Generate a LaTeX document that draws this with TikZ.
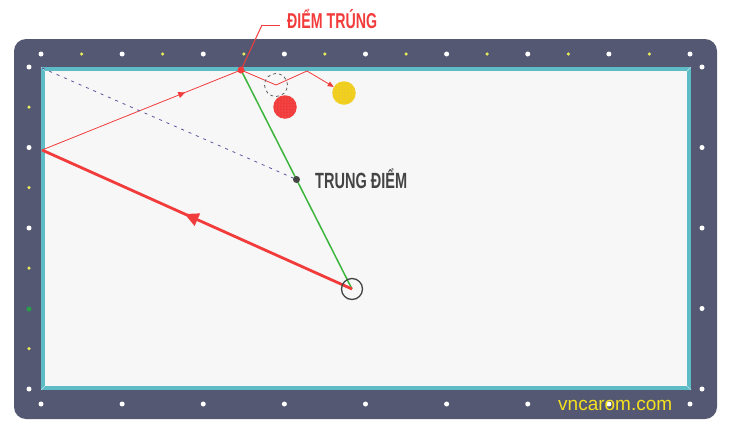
\documentclass[tikz,border=0pt]{standalone}
\usepackage{fontspec}
\setmainfont{Liberation Sans}
\newfontfamily\condfont[FakeStretch=0.66]{Liberation Sans}
\usetikzlibrary{arrows.meta,decorations.markings,calc,patterns}

\definecolor{railgray}{HTML}{555873}
\definecolor{cushion}{HTML}{5EBCC6}
\definecolor{felt}{HTML}{F7F7F7}
\definecolor{shotred}{HTML}{F23C3C}
\definecolor{aimgreen}{HTML}{3DB53D}
\definecolor{guideblue}{HTML}{5A55A0}
\definecolor{ballyellow}{HTML}{F0D21E}
\definecolor{sightyellow}{HTML}{E6EC5A}
\definecolor{sightgreen}{HTML}{2A9D4A}
\definecolor{webyellow}{HTML}{F5E11E}
\definecolor{inkgray}{HTML}{444444}

\pgfdeclarelayer{board}
\pgfdeclarelayer{paths}
\pgfsetlayers{board,paths,main}

\begin{document}
\begin{tikzpicture}[x=1pt,y=-1pt]
\tikzstyle{whitedot} = [circle, fill=white, inner sep=0pt, minimum size=5pt]
\tikzstyle{yellowdot} = [circle, fill=sightyellow, inner sep=0pt, minimum size=3.5pt]
\tikzstyle{greendot} = [circle, fill=sightgreen, inner sep=0pt, minimum size=5pt]
\tikzstyle{ball} = [circle, inner sep=0pt, minimum size=23.5pt]
\tikzstyle{hitdot} = [circle, fill=shotred, inner sep=0pt, minimum size=7pt]
\tikzstyle{middot} = [circle, fill=inkgray, inner sep=0pt, minimum size=7pt]
\tikzstyle{thinshot} = [shotred, line width=0.8pt]
\tikzstyle{thickshot} = [shotred, line width=2.8pt]
\tikzstyle{aim} = [aimgreen, line width=1.5pt]
\tikzstyle{guide} = [guideblue, line width=0.8pt, dash pattern=on 3pt off 5pt]
\tikzstyle{smallhead} = [postaction={decorate}, decoration={markings, mark=at position 0.72 with {\arrow{Triangle[length=7pt,width=6pt]}}}]
\tikzstyle{bighead} = [postaction={decorate}, decoration={markings, mark=at position 0.54 with {\arrow{Triangle[length=14pt,width=13pt]}}}]

\useasboundingbox (0,0) rectangle (732,432);

\begin{pgfonlayer}{board}
\fill[railgray, rounded corners=12pt] (14,39) rectangle (717,419);
\fill[cushion] (41,67) rectangle (691,390);
\fill[felt] (45,71) rectangle (687,386);
\draw[white!60!cushion, line width=0.6pt] (41,67) -- (45,71) (691,67) -- (687,71) (41,390) -- (45,386) (691,390) -- (687,386);
\end{pgfonlayer}

\foreach \i in {0,...,8} {
  \node[whitedot] (top\i) at ({41+81.125*\i},54) {};
  \node[whitedot] (bot\i) at ({41+81.125*\i},404) {};
}
\foreach \i in {0,...,7}
  \node[yellowdot] (topy\i) at ({81.6+81.125*\i},54) {};
\foreach \j in {0,...,4}
  \node[whitedot] (right\j) at (702,{67+80.5*\j}) {};
\foreach \j in {0,1,2,4}
  \node[whitedot] (left\j) at (29,{67+80.5*\j}) {};
\node[greendot] (left3) at (29,309) {};
\foreach \j in {0,...,3}
  \node[yellowdot] (lefty\j) at (29,{107+80.5*\j}) {};

\node[hitdot] (hit) at (241,70) {};
\coordinate (rail) at (42,150);
\coordinate (corner) at (42,68);
\coordinate (bounce) at (307,71);
\coordinate (bend) at (262,25);
\node[circle, draw=inkgray, line width=1.3pt, inner sep=0pt, minimum size=21pt] (cue) at (352,289) {};
\node[middot] (mid) at ($(hit)!0.5!(cue)$) {};
\node[circle, draw=inkgray!85, dashed, line width=0.8pt, inner sep=0pt, minimum size=23pt] (ghost) at (276,85) {};
\node[ball, fill=shotred, postaction={pattern=dots, pattern color=white!30!shotred}] (redball) at (285,107) {};
\node[ball, fill=ballyellow, postaction={pattern=dots, pattern color=magenta!25!ballyellow}] (yellowball) at (344,93) {};

\begin{pgfonlayer}{paths}
\draw[aim] (hit.center) -- (cue.center);
\draw[thickshot, bighead] (cue.center) -- (rail);
\draw[thinshot, smallhead] (rail) -- (hit.center);
\draw[guide] (corner) -- (mid.center);
\draw[thinshot, -{Triangle[length=6pt,width=5pt]}] (hit.center) -- (ghost.center) -- (bounce) -- (yellowball);
\draw[shotred, line width=1pt] (hit.center) -- (bend);
\end{pgfonlayer}

\node[anchor=base west, inner xsep=7pt, inner ysep=0pt, text=shotred, font=\condfont\bfseries\fontsize{21.5}{23}\selectfont] (hitlabel) at (280,28.5) {ĐIỂM TRÚNG};
\draw[shotred, line width=1pt] (bend) -- (bend -| hitlabel.west);
\node[anchor=base west, inner sep=0pt, text=inkgray, font=\condfont\bfseries\fontsize{22}{24}\selectfont] (midlabel) at (315,188.5) {TRUNG ĐIỂM};
\node[anchor=base west, inner sep=0pt, text=webyellow, font=\fontsize{19}{21}\selectfont] (site) at (558,410) {vncarom.com};

\end{tikzpicture}
\end{document}
